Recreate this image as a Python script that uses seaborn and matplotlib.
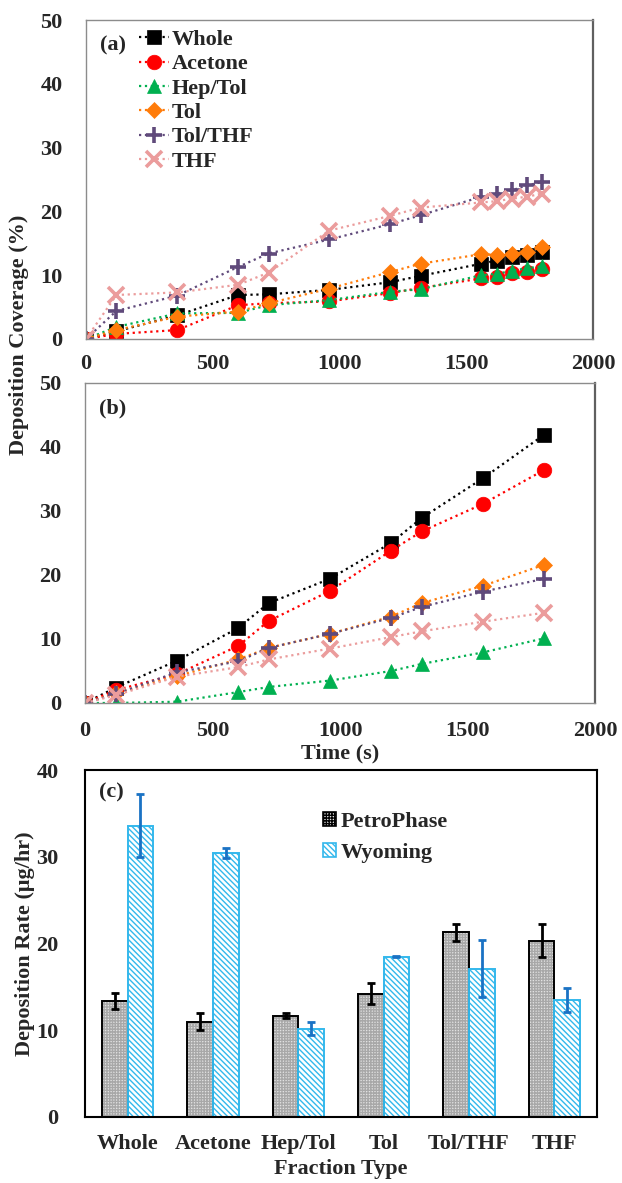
import numpy as np
import pandas as pd
import matplotlib
matplotlib.use('Agg')
import matplotlib.pyplot as plt
import seaborn as sns
from matplotlib.patches import Patch, Rectangle
from matplotlib.ticker import FixedLocator

# ---- data ----
names = ['Whole', 'Acetone', 'Hep/Tol', 'Tol', 'Tol/THF', 'THF']

time_a = [0, 120, 360, 600, 720, 960, 1200, 1320, 1560, 1620, 1680, 1740, 1800]
cov_whole = [0, 1.2, 3.7, 6.9, 7.0, 7.7, 8.9, 9.9, 11.8, 12.3, 12.8, 13.2, 13.7]
cov_acetone = [0, 0.8, 1.4, 5.3, 5.6, 5.9, 7.2, 8.0, 9.5, 9.7, 10.3, 10.5, 10.9]
cov_heptol = [0, 1.9, 4.0, 4.1, 5.3, 6.1, 7.4, 7.8, 10.0, 10.2, 10.7, 11.1, 11.4]
cov_tol = [0, 1.4, 3.5, 4.3, 5.6, 7.9, 10.5, 11.8, 13.3, 13.2, 13.3, 13.7, 14.4]
cov_tolthf = [0, 4.4, 6.8, 11.3, 13.4, 15.6, 18.0, 19.4, 22.3, 22.8, 23.3, 24.1, 24.6]
cov_thf = [0, 6.9, 7.3, 8.5, 10.4, 17.0, 19.3, 20.6, 21.4, 21.6, 22.0, 22.3, 22.8]

time_b = [0, 120, 360, 600, 720, 960, 1200, 1320, 1560, 1800]
dep_whole = [0, 2.4, 6.6, 11.7, 15.6, 19.4, 25.0, 28.9, 35.1, 41.9]
dep_acetone = [0, 2.0, 4.5, 8.9, 12.8, 17.5, 23.8, 26.8, 31.1, 36.4]
dep_heptol = [0, 0.0, 0.2, 1.7, 2.5, 3.5, 5.0, 6.1, 7.9, 10.1]
dep_tol = [0, 1.5, 4.2, 6.8, 8.6, 10.8, 13.5, 15.6, 18.3, 21.6]
dep_tolthf = [0, 1.4, 4.8, 6.5, 8.6, 10.8, 13.3, 15.0, 17.4, 19.4]
dep_thf = [0, 1.2, 4.1, 5.6, 6.8, 8.5, 10.3, 11.2, 12.7, 14.1]

sources = ['PetroPhase', 'Wyoming']
rate_petro = [13.4, 11.0, 11.7, 14.2, 21.3, 20.3]
err_petro = [0.9, 1.0, 0.3, 1.2, 1.0, 1.9]
rate_wyo = [33.6, 30.4, 10.2, 18.5, 17.1, 13.5]
err_wyo = [3.6, 0.6, 0.8, 0.1, 3.3, 1.4]

# ---- style ----
colors = {'Whole': 'black', 'Acetone': '#ff0000', 'Hep/Tol': '#00b050',
          'Tol': '#ff7c0a', 'Tol/THF': '#604a7b', 'THF': '#eb9c9c'}
markers = {'Whole': 's', 'Acetone': 'o', 'Hep/Tol': '^',
           'Tol': 'D', 'Tol/THF': '+', 'THF': 'x'}
msizes = {'Whole': 10, 'Acetone': 10.5, 'Hep/Tol': 10, 'Tol': 8, 'Tol/THF': 12, 'THF': 12}

sns.set_theme(style='white')
plt.rcParams['font.family'] = ['Liberation Serif', 'DejaVu Serif']
plt.rcParams['font.weight'] = 'bold'
plt.rcParams['axes.labelweight'] = 'bold'
plt.rcParams['hatch.linewidth'] = 1.0
FS = 16

fig = plt.figure(figsize=(6.22, 11.83), dpi=100)
W, H = 622, 1183


def px_axes(l, t, r, b):
    return fig.add_axes([l / W, 1 - b / H, (r - l) / W, (b - t) / H])


ax_a = px_axes(86, 20, 593, 339)
ax_b = px_axes(85, 383, 595, 703)
ax_c = px_axes(85, 770, 597, 1117)

df_a = pd.DataFrame({'time': time_a, 'Whole': cov_whole, 'Acetone': cov_acetone,
                     'Hep/Tol': cov_heptol, 'Tol': cov_tol, 'Tol/THF': cov_tolthf,
                     'THF': cov_thf})
df_b = pd.DataFrame({'time': time_b, 'Whole': dep_whole, 'Acetone': dep_acetone,
                     'Hep/Tol': dep_heptol, 'Tol': dep_tol, 'Tol/THF': dep_tolthf,
                     'THF': dep_thf})

for ax, df, tag in [(ax_a, df_a, '(a)'), (ax_b, df_b, '(b)')]:
    for n in names:
        thick = markers[n] in ('+', 'x')
        sns.lineplot(data=df, x='time', y=n, ax=ax, color=colors[n],
                     marker=markers[n], markersize=msizes[n], linestyle=':',
                     linewidth=1.6, markeredgecolor=colors[n],
                     markeredgewidth=2.6 if thick else 0.5, label=n, legend=False)
    ax.set_xlim(0, 2000)
    ax.set_ylim(0, 50)
    ax.set_xticks([0, 500, 1000, 1500, 2000])
    ax.set_yticks([0, 10, 20, 30, 40, 50])
    ax.set_xlabel('')
    ax.set_ylabel('')
    for s in ['left', 'bottom', 'top']:
        ax.spines[s].set_color('#8c8c8c')
        ax.spines[s].set_linewidth(1.0)
    ax.spines['right'].set_color('#606060')
    ax.spines['right'].set_linewidth(1.6)
    ax.tick_params(axis='x', direction='in', length=5, color='#8c8c8c',
                   labelsize=FS, pad=11)
    ax.tick_params(axis='y', direction='out', length=4, color='#8c8c8c',
                   labelsize=FS, pad=13)
    ax.text(0.028, 0.92, tag, transform=ax.transAxes, fontsize=FS,
            fontweight='bold', va='center')
    for lab in ax.get_xticklabels() + ax.get_yticklabels():
        lab.set_fontweight('bold')

ax_a.legend(loc='upper left', bbox_to_anchor=(0.105, 0.97), frameon=False,
            handlelength=1.35, handletextpad=0.1, labelspacing=0.17,
            borderpad=0, borderaxespad=0, numpoints=1,
            prop={'weight': 'bold', 'size': FS})
ax_b.tick_params(axis='x', pad=13)
ax_b.set_xlabel('Time (s)', fontsize=FS, fontweight='bold', labelpad=2)

fig.text(19 / W, 1 - 335 / H, 'Deposition Coverage (%)', rotation=90,
         fontsize=FS, fontweight='bold', ha='center', va='center')

# ---- panel c ----
df_c = pd.DataFrame({'Fraction': names * 2,
                     'Rate': rate_petro + rate_wyo,
                     'Source': [sources[0]] * 6 + [sources[1]] * 6})
sns.barplot(data=df_c, x='Fraction', y='Rate', hue='Source', ax=ax_c,
            width=0.6, errorbar=None, legend=False,
            palette={'PetroPhase': '#e0e0e0', 'Wyoming': 'white'})

petro_face, petro_hatch, petro_hcol = '#e2e2e2', '++++++', '#a8a8a8'
wyo_face, wyo_hatch, wyo_col = 'white', '\\\\\\\\\\\\', '#33b8ec'

bar_style = [
    dict(face=petro_face, hatch=petro_hatch, hcol=petro_hcol, edge='black', err='black'),
    dict(face=wyo_face, hatch=wyo_hatch, hcol=wyo_col, edge=wyo_col, err='#1a72c4'),
]
for cont, st, errs in zip(ax_c.containers, bar_style, [err_petro, err_wyo]):
    xs, ys = [], []
    for p in cont.patches:
        p.set_facecolor(st['face'])
        p.set_hatch(st['hatch'])
        p.set_edgecolor(st['hcol'])
        p.set_linewidth(0)
        ax_c.add_patch(Rectangle(p.get_xy(), p.get_width(), p.get_height(),
                                 fill=False, edgecolor=st['edge'], linewidth=1.4,
                                 zorder=p.get_zorder() + 0.1))
        xs.append(p.get_x() + p.get_width() / 2)
        ys.append(p.get_height())
    ax_c.errorbar(xs, ys, yerr=errs, fmt='none', ecolor=st['err'], elinewidth=2,
                  capsize=3, capthick=2, zorder=5)

ax_c.set_xlim(-0.5, 5.5)
ax_c.set_ylim(0, 40)
ax_c.set_yticks([0, 10, 20, 30, 40])
ax_c.xaxis.set_minor_locator(FixedLocator(np.arange(-0.5, 6, 1)))
ax_c.tick_params(axis='x', which='major', length=0, labelsize=FS, pad=12)
ax_c.tick_params(axis='x', which='minor', direction='out', length=6,
                 color='#8c8c8c', width=1)
ax_c.tick_params(axis='y', direction='out', length=7, color='#8c8c8c',
                 labelsize=FS, pad=12)
for s in ax_c.spines.values():
    s.set_color('black')
    s.set_linewidth(1.5)
for lab in ax_c.get_xticklabels() + ax_c.get_yticklabels():
    lab.set_fontweight('bold')
ax_c.set_xlabel('Fraction Type', fontsize=FS, fontweight='bold', labelpad=4)
ax_c.set_ylabel('Deposition Rate (\u03bcg/hr)', fontsize=FS, fontweight='bold')
ax_c.yaxis.set_label_coords(-0.097, 0.5)
ax_c.text(0.028, 0.935, '(c)', transform=ax_c.transAxes, fontsize=FS,
          fontweight='bold', va='center')

handles = [Patch(facecolor=petro_face, edgecolor='black', hatch=petro_hatch, lw=1.2),
           Patch(facecolor=wyo_face, edgecolor=wyo_col, hatch=wyo_hatch, lw=1.2)]
ax_c.legend(handles, sources, loc='upper left', bbox_to_anchor=(0.465, 0.88),
            frameon=False, handlelength=0.6, handleheight=0.6,
            handletextpad=0.2, labelspacing=0.5, borderpad=0, borderaxespad=0,
            prop={'weight': 'bold', 'size': FS})

fig.savefig('out.png', dpi=100)
